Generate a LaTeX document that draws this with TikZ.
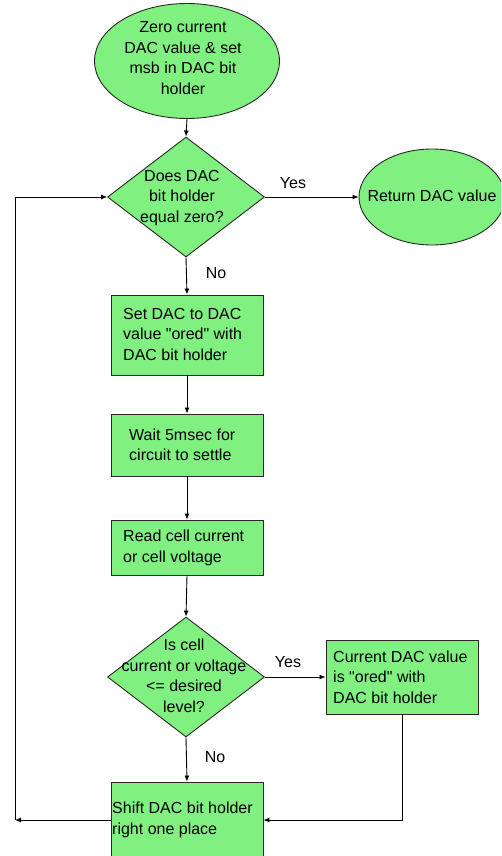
\documentclass[tikz,border=0pt]{standalone}
\usepackage{fontspec}
\setmainfont{Liberation Sans}[Ligatures=TeXOff]
\usetikzlibrary{shapes.geometric,arrows.meta}
\definecolor{boxgreen}{RGB}{128,240,128}
\definecolor{edgegray}{RGB}{40,40,40}
\tikzset{
  shapebase/.style={draw=edgegray, line width=0.9pt, fill=boxgreen, inner sep=0pt},
  oval/.style={shapebase, ellipse},
  decision/.style={shapebase, diamond, minimum width=157pt, minimum height=120pt},
  txt/.style={inner sep=0pt, font=\fontsize{16}{20.5}\selectfont},
  lbl/.style={inner sep=0pt, font=\fontsize{16}{20}\selectfont},
  arr/.style={draw=black, line width=0.9pt, -{Latex[length=6pt,width=5pt]}},
  ln/.style={draw=black, line width=0.9pt}
}
\begin{document}
\begin{tikzpicture}[x=1pt,y=-1pt]
\clip (0,0) rectangle (501,856);
\fill[white] (0,0) rectangle (501,856);
% shapes
\node[oval, minimum width=185pt, minimum height=115pt] (start) at (187,61) {};
\node[txt, align=center] (startt) at (183,58) {Zero current\\DAC value \& set\\msb in DAC bit\\holder};
\node[decision] (d1) at (186,197) {};
\node[txt, align=center] (d1t) at (182,198) {Does DAC\\bit holder\\equal zero?};
\node[oval, minimum width=146pt, minimum height=96pt] (ret) at (432,197) {};
\node[txt] (rett) at (432,196) {Return DAC value};
\node[shapebase, minimum width=152pt, minimum height=80pt] (b1) at (187,335) {};
\node[txt, align=left, anchor=west] (b1t) at (123,334) {Set DAC to DAC\\value "ored" with\\DAC bit holder};
\node[shapebase, minimum width=152pt, minimum height=62pt] (b2) at (187,445) {};
\node[txt, align=left, anchor=west] (b2t) at (129,445) {Wait 5msec for\\circuit to settle};
\node[shapebase, minimum width=152pt, minimum height=55pt] (b3) at (187,547.5) {};
\node[txt, align=left, anchor=west] (b3t) at (123,548) {Read cell current\\or cell voltage};
\node[decision] (d2) at (186,677) {};
\node[txt, align=center] (d2t) at (184,676) {Is cell\\current or voltage\\<= desired\\level?};
\node[shapebase, minimum width=152pt, minimum height=74pt] (b4) at (402,677) {};
\node[txt, align=left, anchor=west] (b4t) at (333,677) {Current DAC value\\is "ored" with\\DAC bit holder};
\node[shapebase, minimum width=152pt, minimum height=76pt] (sh) at (187,820) {};
\node[txt, align=left, anchor=west] (sht) at (112,820) {Shift DAC bit holder\\right one place};
% labels
\node[lbl] (yes1) at (293,183) {Yes};
\node[lbl] (no1) at (216,273) {No};
\node[lbl] (yes2) at (288,662) {Yes};
\node[lbl] (no2) at (215,757) {No};
% connectors
\coordinate (loop) at (15,820);
\draw[arr] (start.south) -- (d1.north);
\draw[arr] (d1.east) -- (ret.west);
\draw[arr] (d1.south) -- (b1.north);
\draw[arr] (b1.south) -- (b2.north);
\draw[arr] (b2.south) -- (b3.north);
\draw[arr] (b3.south) -- (d2.north);
\draw[arr] (d2.east) -- (b4.west);
\draw[arr] (d2.south) -- (sh.north);
\draw[arr] (b4.south) |- (sh.east);
\draw[arr] (sh.west) -- (loop);
\draw[arr] (loop) |- (d1.west);
\end{tikzpicture}
\end{document}
